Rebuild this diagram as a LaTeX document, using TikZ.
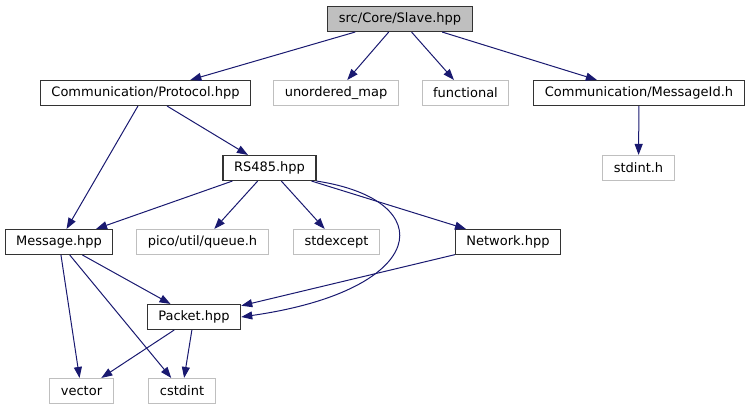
\documentclass[tikz,border=0pt]{standalone}
\usepackage{fontspec}
\setmainfont{DejaVu Sans}
\usepackage{xcolor}
\usetikzlibrary{arrows.meta, positioning, calc}

\definecolor{edgeblue}{HTML}{191970}
\definecolor{boxgray}{HTML}{BFBFBF}

\begin{document}
\begin{tikzpicture}[
    x=1pt, y=-1pt,
    header/.style={rectangle, draw=black!80, fill=white, line width=1.1pt, inner xsep=11pt, inner ysep=0pt, minimum height=25pt, font=\fontsize{13}{15}\selectfont},
    sysheader/.style={header, draw=boxgray},
    root/.style={header, fill=boxgray},
    arrow/.style={-{Stealth[inset=0pt, length=11pt, width=8pt]}, line width=1pt, draw=edgeblue}
]
    \useasboundingbox (0,0) rectangle (750,411);

    % Top row
    \node[root] (slave) at (400, 19) {src/Core/Slave.hpp};
    \node[header] (protocol) at (145.5, 93) {Communication/Protocol.hpp};
    \node[sysheader] (umap) at (336, 93) {unordered\_map};
    \node[sysheader] (functional) at (465.5, 93) {functional};
    \node[header] (msgid) at (639, 93) {Communication/MessageId.h};
    \node[sysheader] (stdint) at (638.5, 168) {stdint.h};

    % Middle rows
    \node[header] (rs485) at (269.5, 168) {RS485.hpp};
    \node[header] (message) at (59, 242) {Message.hpp};
    \node[sysheader] (pico) at (202.5, 242) {pico/util/queue.h};
    \node[sysheader] (stdexcept) at (336.5, 242) {stdexcept};
    \node[header] (network) at (508, 242) {Network.hpp};

    % Bottom rows
    \node[header] (packet) at (194, 317) {Packet.hpp};
    \node[sysheader] (vector) at (81.5, 391) {vector};
    \node[sysheader] (cstdint) at (182, 391) {cstdint};

    % Includes of Slave.hpp
    \draw[arrow] (slave) -- (protocol);
    \draw[arrow] (slave) -- (umap);
    \draw[arrow] (slave) -- (functional);
    \draw[arrow] (slave) -- (msgid);
    \draw[arrow] (msgid) -- (stdint);

    % Protocol and RS485
    \draw[arrow] (protocol) -- (message);
    \draw[arrow] (protocol) -- (rs485);
    \draw[arrow] (rs485) -- (message);
    \draw[arrow] (rs485) -- (pico);
    \draw[arrow] (rs485) -- (stdexcept);
    \draw[arrow] (rs485) -- (network);
    \draw[arrow] (rs485.south east) .. controls +(125,19) and +(189,-27) .. (packet.east);
    \draw[arrow] (network) -- (packet);

    % Message and Packet
    \draw[arrow] (message) -- (packet);
    \draw[arrow] (message) -- (vector);
    \draw[arrow] (message) -- (cstdint);
    \draw[arrow] (packet) -- (vector);
    \draw[arrow] (packet) -- (cstdint);

\end{tikzpicture}
\end{document}
